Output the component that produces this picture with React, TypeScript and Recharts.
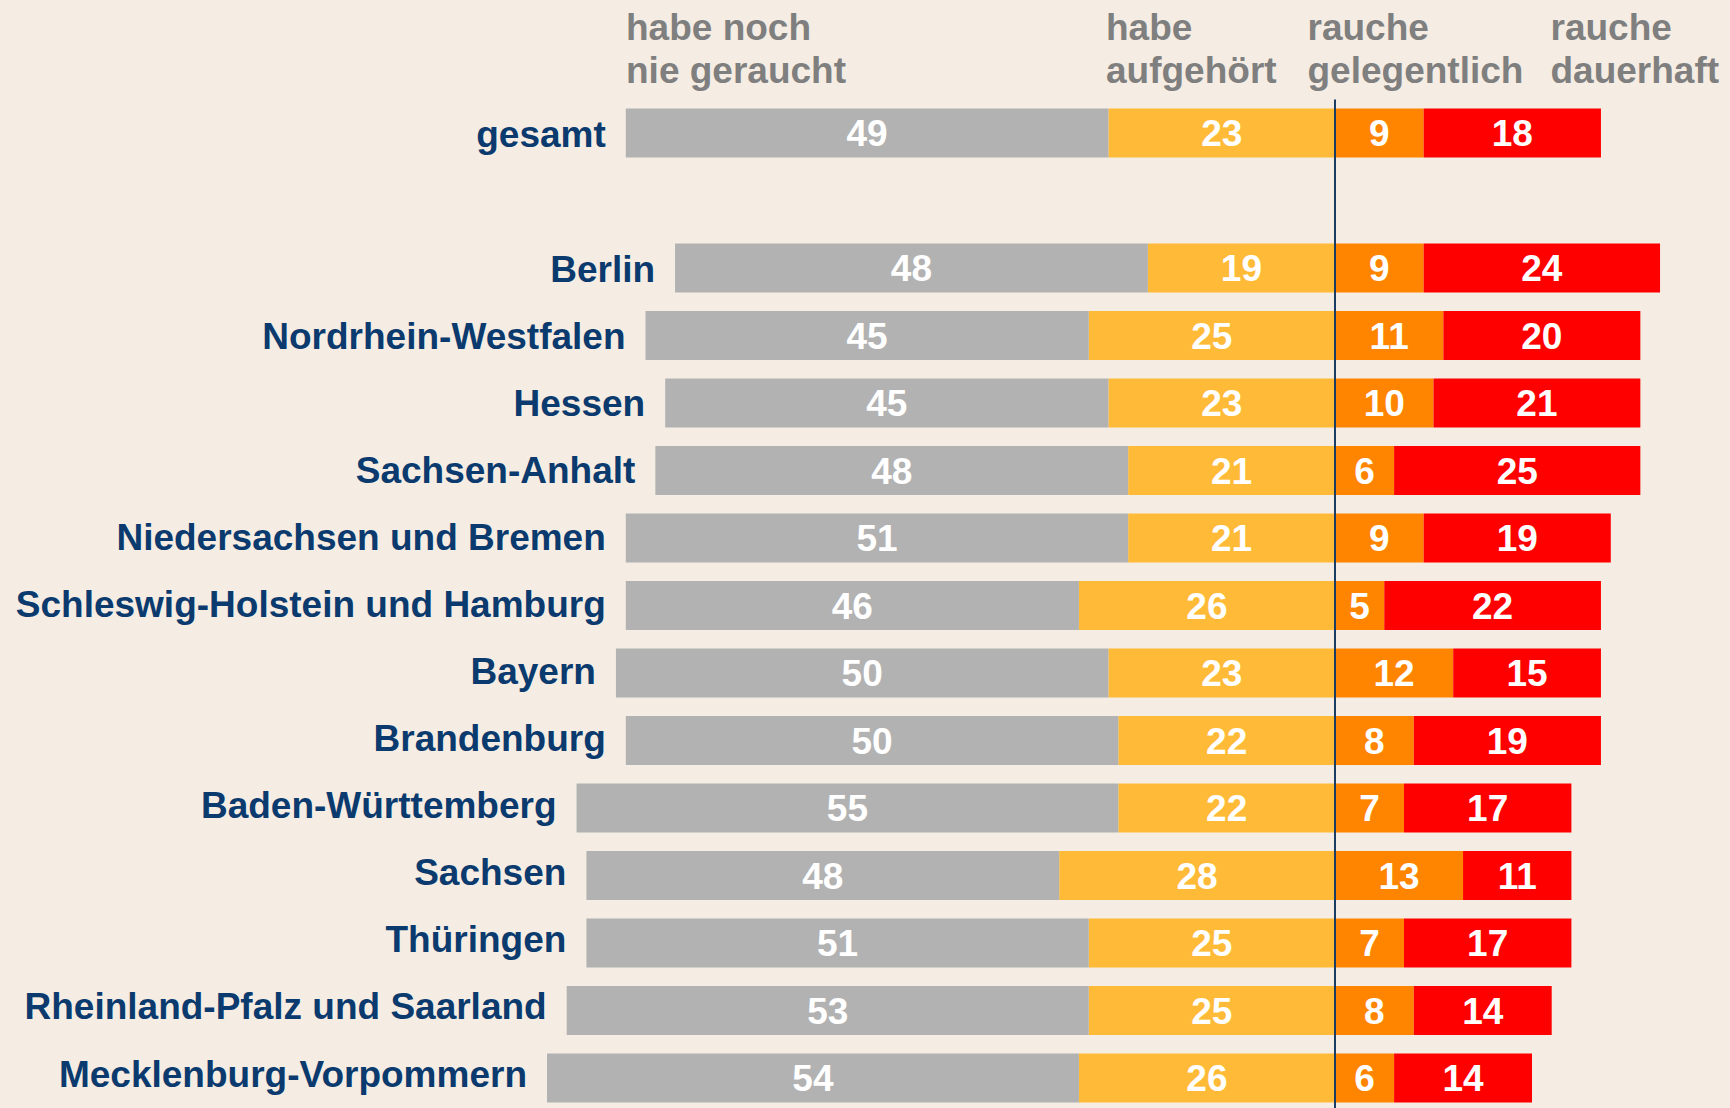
import React from "react";
import { BarChart, Bar, XAxis, YAxis, ReferenceLine, LabelList } from "recharts";

const categories = [
  "gesamt",
  "",
  "Berlin",
  "Nordrhein-Westfalen",
  "Hessen",
  "Sachsen-Anhalt",
  "Niedersachsen und Bremen",
  "Schleswig-Holstein und Hamburg",
  "Bayern",
  "Brandenburg",
  "Baden-Württemberg",
  "Sachsen",
  "Thüringen",
  "Rheinland-Pfalz und Saarland",
  "Mecklenburg-Vorpommern",
];
const neverSmoked = [49, null, 48, 45, 45, 48, 51, 46, 50, 50, 55, 48, 51, 53, 54];
const quitSmoking = [23, null, 19, 25, 23, 21, 21, 26, 23, 22, 22, 28, 25, 25, 26];
const occasional = [9, null, 9, 11, 10, 6, 9, 5, 12, 8, 7, 13, 7, 8, 6];
const permanent = [18, null, 24, 20, 21, 25, 19, 22, 15, 19, 17, 11, 17, 14, 14];

const headerLabels = [
  ["habe noch", "nie geraucht"],
  ["habe", "aufgehört"],
  ["rauche", "gelegentlich"],
  ["rauche", "dauerhaft"],
];
const headerLeft = [626, 1106, 1307.5, 1550.5];

const neg = (v: number | null) => (v == null ? null : -v);

const data = categories.map((name, i) => ({
  name,
  quit: neg(quitSmoking[i]),
  never: neg(neverSmoked[i]),
  occ: occasional[i],
  perm: permanent[i],
}));

const FONT = '"Liberation Sans", Arial, Helvetica, sans-serif';
const BG = "#f5ede3";
const NAVY = "#0b3a6e";

const ValueLabel = (props: any) => {
  const { x, y, width, height, value } = props;
  if (value == null || value === 0) return null;
  const cx = Number(x) + Number(width) / 2;
  const cy = Number(y) + Number(height) / 2;
  return (
    <text
      x={cx}
      y={cy + 13}
      textAnchor="middle"
      fill="#ffffff"
      fontSize={37}
      fontWeight="bold"
      fontFamily={FONT}
    >
      {Math.abs(Number(value))}
    </text>
  );
};

const NameLabel = (props: any) => {
  const { x, y, width, height, value, index } = props;
  if (!value) return null;
  const left = Math.min(Number(x), Number(x) + Number(width));
  const cy = Number(y) + Number(height) / 2;
  const shift = 14 - 0.42 * (Number(index) || 0);
  return (
    <text
      x={left - 20}
      y={cy + shift}
      textAnchor="end"
      fill={NAVY}
      fontSize={37}
      fontWeight="bold"
      fontFamily={FONT}
    >
      {value}
    </text>
  );
};

export default function App() {
  return (
    <div
      style={{
        position: "absolute",
        top: 0,
        left: 0,
        width: 1730,
        height: 1108,
        overflow: "hidden",
        background: BG,
        fontFamily: FONT,
      }}
    >
      {headerLabels.map((lines, i) => (
        <div
          key={i}
          style={{
            position: "absolute",
            top: 5.5,
            left: headerLeft[i],
            fontSize: 37,
            lineHeight: "43px",
            fontWeight: "bold",
            color: "#7f7f7f",
            whiteSpace: "nowrap",
          }}
        >
          {lines.map((l, j) => (
            <div key={j}>{l}</div>
          ))}
        </div>
      ))}
      <div style={{ position: "absolute", top: 0, left: 0 }}>
        <BarChart
          width={1730}
          height={1112}
          data={data}
          layout="vertical"
          stackOffset="sign"
          barSize={49}
          margin={{ top: 99.5, right: 1, bottom: 0, left: 547 }}
        >
          <XAxis type="number" domain={[-80, 40]} hide allowDataOverflow />
          <YAxis type="category" dataKey="name" hide />
          <Bar dataKey="quit" stackId="a" fill="#ffbb38" isAnimationActive={false}>
            <LabelList dataKey="quit" content={ValueLabel} />
          </Bar>
          <Bar dataKey="never" stackId="a" fill="#b2b2b2" isAnimationActive={false}>
            <LabelList dataKey="never" content={ValueLabel} />
            <LabelList dataKey="name" content={NameLabel} />
          </Bar>
          <Bar dataKey="occ" stackId="a" fill="#ff8500" isAnimationActive={false}>
            <LabelList dataKey="occ" content={ValueLabel} />
          </Bar>
          <Bar dataKey="perm" stackId="a" fill="#ff0000" isAnimationActive={false}>
            <LabelList dataKey="perm" content={ValueLabel} />
          </Bar>
          <ReferenceLine x={0} stroke="#1c3d63" strokeWidth={2} ifOverflow="extendDomain" />
        </BarChart>
      </div>
    </div>
  );
}
